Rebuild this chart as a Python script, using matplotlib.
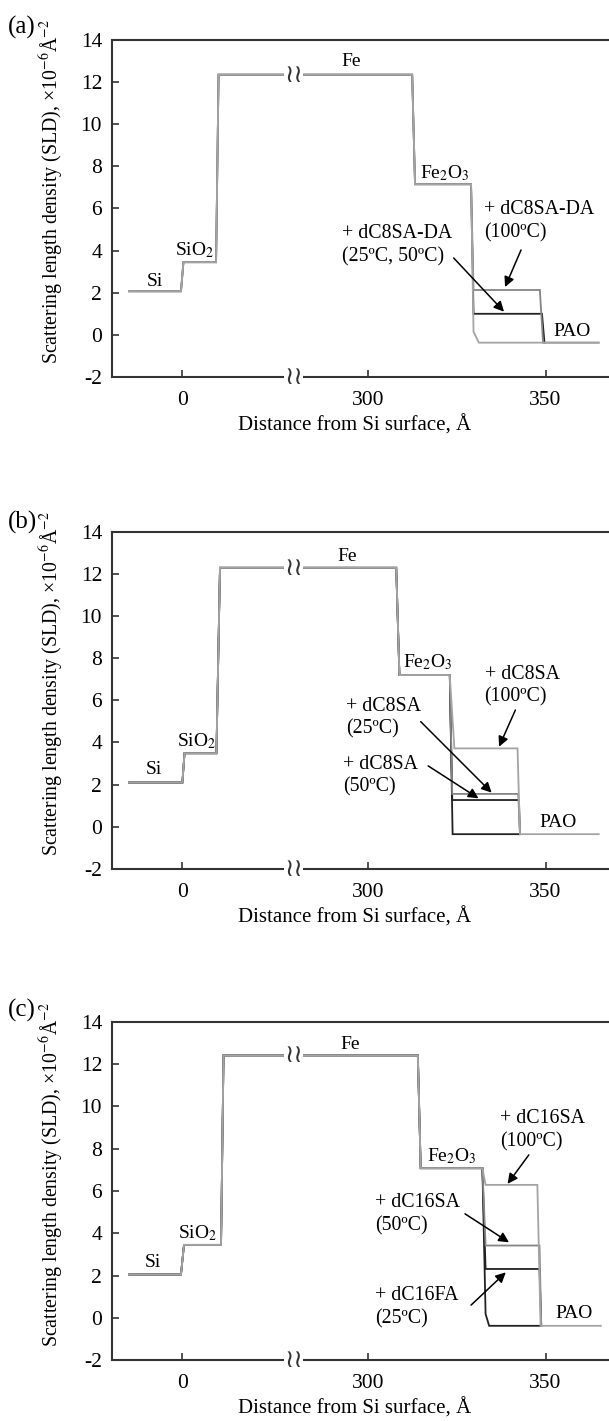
import numpy as np
import matplotlib.pyplot as plt

plt.rcParams['font.family'] = ['Liberation Serif', 'DejaVu Serif']
plt.rcParams['mathtext.fontset'] = 'stix'
plt.rcParams['axes.unicode_minus'] = False

# the x axis is broken between ~31 and ~279 Angstrom
GAP = 247.6
BREAK = 31.4

LIGHT = '#a4a4a4'
MID = '#858585'
DARK = '#222222'

# ---- panel (a): dC8SA-DA ----
a_sub_x = [-15, -0.4, 0.3, 9.5, 10.2, 312.4, 313.2, 329.0]
a_sub_sld = [2.07, 2.07, 3.45, 3.45, 12.35, 12.35, 7.15, 7.15]
a_2550_x = [329.7, 349.0, 349.7]
a_2550_sld = [1.0, 1.0, -0.37]
a_100_x = [329.7, 348.4, 349.3, 365.0]
a_100_sld = [2.13, 2.13, -0.37, -0.37]
a_pao_x = [329.7, 331.2, 365.0]
a_pao_sld = [0.15, -0.37, -0.37]

# ---- panel (b): dC8SA ----
b_sub_x = [-15, 0.0, 0.6, 9.6, 10.6, 307.9, 308.8, 323.0]
b_sub_sld = [2.1, 2.1, 3.49, 3.49, 12.29, 12.29, 7.2, 7.2]
b_pao_x = [323.8, 342.4]
b_pao_sld = [-0.35, -0.35]
b_50_x = [323.7, 342.5, 342.8]
b_50_sld = [1.27, 1.27, -0.35]
b_25_x = [323.7, 342.3, 342.8]
b_25_sld = [1.56, 1.56, -0.35]
b_100_x = [324.3, 342.1, 342.8, 365.0]
b_100_sld = [3.72, 3.72, -0.35, -0.35]

# ---- panel (c): dC16SA / dC16FA ----
c_sub_x = [-15, -0.4, 0.45, 10.9, 11.6, 314.0, 314.8, 332.2]
c_sub_sld = [2.05, 2.05, 3.45, 3.45, 12.42, 12.42, 7.08, 7.08]
c_pao_x = [333.1, 334.1, 348.3]
c_pao_sld = [0.18, -0.38, -0.38]
c_25_x = [333.1, 348.3, 348.8]
c_25_sld = [2.31, 2.31, -0.38]
c_50_x = [333.1, 348.3, 348.8]
c_50_sld = [3.42, 3.42, -0.38]
c_100_x = [333.1, 347.7, 348.6, 365.6]
c_100_sld = [6.29, 6.29, -0.38, -0.38]

x_ticks = [0, 300, 350]
y_ticks = [-2, 0, 2, 4, 6, 8, 10, 12, 14]


def squeeze(x):
    x = np.asarray(x, dtype=float)
    return np.where(x > 150, x - GAP, x)


panels = [
    dict(letter='(a)', sub=(a_sub_x, a_sub_sld),
         tails=[(a_2550_x, a_2550_sld, DARK), (a_100_x, a_100_sld, MID),
                (a_pao_x, a_pao_sld, LIGHT)],
         labels=[(-7.7, 2.53), (3.4, 4.03), (295.1, 12.97), (321.6, 7.68), (357.6, 0.15)],
         notes=[('+ dC8SA-DA\n(100ºC)', (332.7, 5.39), (343.1, 4.03), (338.6, 2.27)),
                ('+ dC8SA-DA\n(25ºC, 50ºC)', (292.6, 4.25), (324.1, 3.65), (338.3, 1.1))]),
    dict(letter='(b)', sub=(b_sub_x, b_sub_sld),
         tails=[(b_pao_x, b_pao_sld, DARK), (b_50_x, b_50_sld, DARK),
                (b_25_x, b_25_sld, MID), (b_100_x, b_100_sld, LIGHT)],
         labels=[(-7.9, 2.7), (4.0, 4.04), (294.2, 12.81), (316.8, 7.79), (353.6, 0.2)],
         notes=[('+ dC8SA\n(100ºC)', (332.8, 6.7), (341.5, 5.54), (336.9, 3.8)),
                ('+ dC8SA\n(25ºC)', (293.8, 5.18), (314.8, 4.99), (334.8, 1.62)),
                ('+ dC8SA\n(50ºC)', (292.9, 2.42), (316.9, 2.89), (331.1, 1.35))]),
    dict(letter='(c)', sub=(c_sub_x, c_sub_sld),
         tails=[(c_pao_x, c_pao_sld, DARK), (c_25_x, c_25_sld, DARK),
                (c_50_x, c_50_sld, MID), (c_100_x, c_100_sld, LIGHT)],
         labels=[(-8.2, 2.63), (4.2, 4.02), (294.9, 12.93), (323.5, 7.65), (357.9, 0.21)],
         notes=[('+ dC16SA\n(100ºC)', (337.2, 8.88), (345.3, 7.71), (339.3, 6.34)),
                ('+ dC16SA\n(50ºC)', (302.0, 4.9), (327.3, 4.92), (339.7, 3.57)),
                ('+ dC16FA\n(25ºC)', (302.0, 0.5), (329.0, 0.6), (338.8, 2.15))]),
]

layer_names = ['Si', 'SiO$_2$', 'Fe', 'Fe$_2$O$_3$', 'PAO']

fig = plt.figure(figsize=(6.09, 14.21), dpi=100)
axes_boxes = [(0.1836, 0.7347, 0.8164, 0.2372),
              (0.1836, 0.3885, 0.8164, 0.2373),
              (0.1836, 0.0429, 0.8164, 0.2379)]
letter_y = [0.981, 0.6325, 0.2892]

for p, box, ly in zip(panels, axes_boxes, letter_y):
    ax = fig.add_axes(box)
    sx, ssld = p['sub']
    for tx, tsld, col in p['tails']:
        xs = list(sx) + list(tx)
        ys = list(ssld) + list(tsld)
        ax.plot(squeeze(xs), ys, color=col, lw=1.3, solid_joinstyle='miter')

    for name, (lx, lyv) in zip(layer_names, p['labels']):
        ax.text(squeeze(lx), lyv, name, fontsize=14, ha='center', va='center')

    for txt, tpos, tail, head in p['notes']:
        ax.text(squeeze(tpos[0]), tpos[1], txt, fontsize=14.3, ha='left', va='center',
                linespacing=1.25)
        ax.annotate('', xy=(squeeze(head[0]), head[1]),
                    xytext=(squeeze(tail[0]), tail[1]),
                    arrowprops=dict(arrowstyle='-|>', color='black', lw=1.1,
                                    mutation_scale=15, shrinkA=0, shrinkB=0))

    # axis break marks
    fe_level = p['sub'][1][5]
    for yb in (fe_level, -2):
        ax.text(BREAK, yb, '≀≀', family='DejaVu Sans', fontsize=18, ha='center',
                va='center', color='#333333', clip_on=False,
                bbox=dict(facecolor='white', edgecolor='none', pad=0.0))

    ax.set_xlim(-19.9, squeeze(367.9))
    ax.set_ylim(-2, 14)
    ax.set_xticks(squeeze(x_ticks))
    ax.set_xticklabels([str(t) for t in x_ticks])
    ax.set_yticks(y_ticks)
    ax.tick_params(direction='in', length=5, width=1.2, labelsize=15.5,
                   color='#333333', top=False, right=False)
    ax.tick_params(axis='y', pad=7)
    ax.tick_params(axis='x', pad=10)
    for side in ('left', 'bottom', 'top'):
        ax.spines[side].set_linewidth(1.5)
        ax.spines[side].set_color('#333333')
    ax.spines['right'].set_visible(False)

    ax.set_xlabel('Distance from Si surface, Å', fontsize=15)
    ax.xaxis.set_label_coords(0.489, -0.112)
    ax.set_ylabel('Scattering length density (SLD), ×10$^{-6}$Å$^{-2}$', fontsize=14.3)
    ax.yaxis.set_label_coords(-0.092, 0.55)

    fig.text(0.013, ly, p['letter'], fontsize=18, ha='left', va='center')

fig.savefig('out.png', dpi=100)
